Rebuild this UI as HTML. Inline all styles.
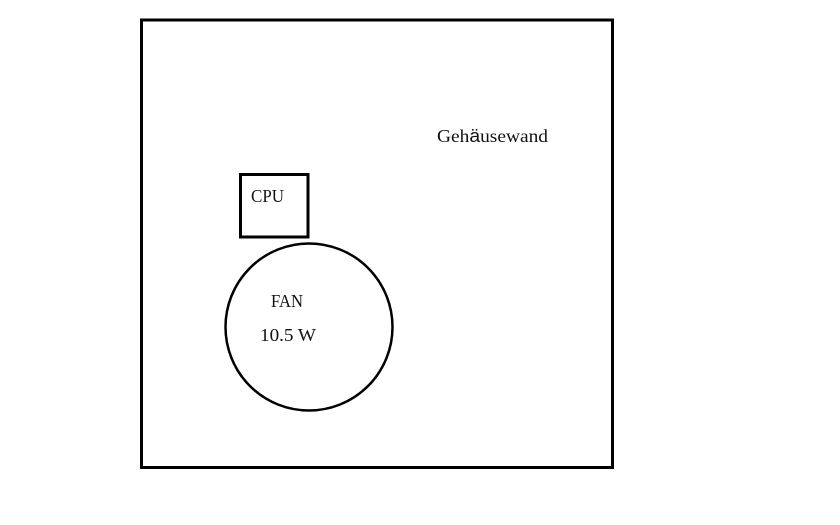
<!DOCTYPE html>
<html><head><style>html,body{margin:0;padding:0;background:#fff;}</style></head>
<body>
<svg width="840" height="525" xmlns="http://www.w3.org/2000/svg" style="display:block">
<rect x="0" y="0" width="840" height="525" fill="#fff"/>
<rect x="141.5" y="20" width="471" height="447.5" fill="none" stroke="#000" stroke-width="3"/>
<rect x="240.5" y="174.5" width="67.5" height="62.5" fill="none" stroke="#000" stroke-width="3"/>
<circle cx="309" cy="327" r="83.5" fill="none" stroke="#000" stroke-width="2.5"/>
<g font-family="Liberation Serif, serif" font-size="18" fill="#111">
<text x="437" y="142" textLength="111" lengthAdjust="spacingAndGlyphs">Geh<tspan font-family="Liberation Sans, sans-serif">ä</tspan>usewand</text>
<text x="251" y="202" textLength="33" lengthAdjust="spacingAndGlyphs">CPU</text>
<text x="271" y="307" textLength="32" lengthAdjust="spacingAndGlyphs">FAN</text>
<text x="260" y="341" textLength="56" lengthAdjust="spacingAndGlyphs">10.5 W</text>
</g>
</svg>
</body></html>
